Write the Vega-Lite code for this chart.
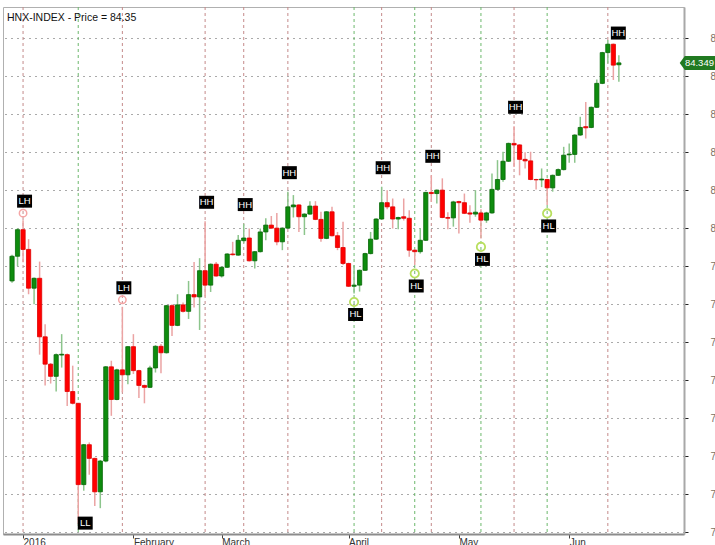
{
"$schema":"https://vega.github.io/schema/vega-lite/v6.json",
"autosize":{"type":"none"},
"width":681,"height":527,
"padding":{"left":3,"top":7,"right":31,"bottom":11},
"background":"white",
"config":{"view":{"stroke":"#b0b0b0","fill":"white"}},
"title":{"text":"HNX-INDEX - Price = 84.35","anchor":"start","frame":"group","orient":"top","offset":-14,"dy":11,"dx":4,"baseline":"alphabetic","fontSize":10.5,"font":"Liberation Sans Narrow, Liberation Sans","fontWeight":"normal","color":"#111"},
"datasets":{"ohlc":[
{"i":0,"d":"2015-12-30","o":78.61,"h":79.3,"l":78.56,"c":79.26},
{"i":1,"d":"2015-12-31","o":79.26,"h":80.0,"l":79.0,"c":79.96},
{"i":2,"d":"2016-01-04","o":79.96,"h":80.21,"l":79.1,"c":79.44,"p":"LH"},
{"i":3,"d":"2016-01-05","o":79.44,"h":79.71,"l":78.26,"c":78.42},
{"i":4,"d":"2016-01-06","o":78.42,"h":78.7,"l":78.0,"c":78.68},
{"i":5,"d":"2016-01-07","o":78.68,"h":79.12,"l":76.67,"c":77.14},
{"i":6,"d":"2016-01-08","o":77.14,"h":77.47,"l":75.86,"c":76.42},
{"i":7,"d":"2016-01-11","o":76.42,"h":76.45,"l":75.91,"c":76.1},
{"i":8,"d":"2016-01-12","o":76.1,"h":76.7,"l":75.7,"c":76.67},
{"i":9,"d":"2016-01-13","o":76.66,"h":77.21,"l":76.33,"c":76.68},
{"i":10,"d":"2016-01-14","o":76.67,"h":76.7,"l":75.32,"c":75.7},
{"i":11,"d":"2016-01-15","o":75.7,"h":76.38,"l":75.36,"c":75.39},
{"i":12,"d":"2016-01-18","o":75.39,"h":75.4,"l":72.21,"c":73.25,"p":"LL"},
{"i":13,"d":"2016-01-19","o":73.25,"h":74.32,"l":73.09,"c":74.3},
{"i":14,"d":"2016-01-20","o":74.3,"h":74.36,"l":73.51,"c":73.94},
{"i":15,"d":"2016-01-21","o":73.94,"h":73.96,"l":72.69,"c":73.06},
{"i":16,"d":"2016-01-22","o":73.06,"h":73.9,"l":72.63,"c":73.87},
{"i":17,"d":"2016-01-25","o":73.87,"h":76.37,"l":73.84,"c":76.35},
{"i":18,"d":"2016-01-26","o":76.35,"h":76.51,"l":75.06,"c":75.49},
{"i":19,"d":"2016-01-27","o":75.49,"h":76.3,"l":75.47,"c":76.27},
{"i":20,"d":"2016-01-28","o":76.27,"h":77.93,"l":75.68,"c":76.14,"p":"LH"},
{"i":21,"d":"2016-01-29","o":76.14,"h":76.9,"l":75.89,"c":76.88},
{"i":22,"d":"2016-02-01","o":76.88,"h":77.21,"l":76.16,"c":76.25},
{"i":23,"d":"2016-02-02","o":76.25,"h":76.27,"l":75.53,"c":75.86},
{"i":24,"d":"2016-02-03","o":75.86,"h":75.88,"l":75.39,"c":75.81},
{"i":25,"d":"2016-02-04","o":75.81,"h":76.38,"l":75.79,"c":76.32},
{"i":26,"d":"2016-02-05","o":76.32,"h":76.92,"l":76.2,"c":76.89},
{"i":27,"d":"2016-02-15","o":76.89,"h":76.95,"l":76.18,"c":76.72},
{"i":28,"d":"2016-02-16","o":76.72,"h":77.98,"l":76.7,"c":77.96},
{"i":29,"d":"2016-02-17","o":77.96,"h":78.0,"l":77.16,"c":77.44},
{"i":30,"d":"2016-02-18","o":77.44,"h":78.26,"l":77.42,"c":77.98},
{"i":31,"d":"2016-02-19","o":77.98,"h":78.04,"l":77.78,"c":77.81},
{"i":32,"d":"2016-02-22","o":77.81,"h":78.61,"l":77.61,"c":78.25},
{"i":33,"d":"2016-02-23","o":78.25,"h":79.11,"l":77.91,"c":78.19},
{"i":34,"d":"2016-02-24","o":78.19,"h":79.21,"l":77.32,"c":78.88},
{"i":35,"d":"2016-02-25","o":78.88,"h":80.18,"l":78.2,"c":78.5,"p":"HH"},
{"i":36,"d":"2016-02-26","o":78.5,"h":79.07,"l":78.32,"c":79.05},
{"i":37,"d":"2016-02-29","o":79.05,"h":79.11,"l":78.72,"c":78.74},
{"i":38,"d":"2016-03-01","o":78.74,"h":78.99,"l":78.7,"c":78.97},
{"i":39,"d":"2016-03-02","o":78.97,"h":79.34,"l":78.95,"c":79.32},
{"i":40,"d":"2016-03-03","o":79.32,"h":79.64,"l":79.28,"c":79.3},
{"i":41,"d":"2016-03-04","o":79.29,"h":79.82,"l":79.27,"c":79.68},
{"i":42,"d":"2016-03-07","o":79.67,"h":80.12,"l":79.6,"c":79.74,"p":"HH"},
{"i":43,"d":"2016-03-08","o":79.74,"h":79.99,"l":79.12,"c":79.14},
{"i":44,"d":"2016-03-09","o":79.14,"h":79.4,"l":78.94,"c":79.38},
{"i":45,"d":"2016-03-10","o":79.38,"h":79.99,"l":79.36,"c":79.9},
{"i":46,"d":"2016-03-11","o":79.9,"h":80.26,"l":79.68,"c":80.08},
{"i":47,"d":"2016-03-14","o":80.08,"h":80.32,"l":79.98,"c":80.0},
{"i":48,"d":"2016-03-15","o":80.0,"h":80.4,"l":79.55,"c":79.64},
{"i":49,"d":"2016-03-16","o":79.64,"h":80.02,"l":79.42,"c":80.0},
{"i":50,"d":"2016-03-17","o":80.0,"h":80.96,"l":79.98,"c":80.56,"p":"HH"},
{"i":51,"d":"2016-03-18","o":80.56,"h":80.87,"l":80.28,"c":80.61},
{"i":52,"d":"2016-03-21","o":80.61,"h":80.63,"l":79.9,"c":80.3},
{"i":53,"d":"2016-03-22","o":80.3,"h":80.39,"l":79.82,"c":80.37},
{"i":54,"d":"2016-03-23","o":80.37,"h":80.71,"l":80.35,"c":80.58},
{"i":55,"d":"2016-03-24","o":80.58,"h":80.71,"l":80.21,"c":80.23},
{"i":56,"d":"2016-03-25","o":80.23,"h":80.43,"l":79.64,"c":79.73},
{"i":57,"d":"2016-03-28","o":79.73,"h":80.45,"l":79.71,"c":80.43},
{"i":58,"d":"2016-03-29","o":80.43,"h":80.56,"l":79.78,"c":79.8},
{"i":59,"d":"2016-03-30","o":79.8,"h":79.9,"l":79.42,"c":79.49},
{"i":60,"d":"2016-03-31","o":79.49,"h":80.17,"l":79.03,"c":79.07},
{"i":61,"d":"2016-04-01","o":79.07,"h":79.09,"l":78.45,"c":78.47},
{"i":62,"d":"2016-04-04","o":78.47,"h":79.03,"l":78.28,"c":78.5,"p":"HL"},
{"i":63,"d":"2016-04-05","o":78.5,"h":78.91,"l":78.33,"c":78.89},
{"i":64,"d":"2016-04-06","o":78.89,"h":79.35,"l":78.87,"c":79.33},
{"i":65,"d":"2016-04-07","o":79.33,"h":79.9,"l":79.31,"c":79.71},
{"i":66,"d":"2016-04-08","o":79.71,"h":80.26,"l":79.69,"c":80.24},
{"i":67,"d":"2016-04-11","o":80.24,"h":81.09,"l":80.22,"c":80.67,"p":"HH"},
{"i":68,"d":"2016-04-12","o":80.67,"h":81.0,"l":80.5,"c":80.56},
{"i":69,"d":"2016-04-13","o":80.56,"h":80.78,"l":79.99,"c":80.24},
{"i":70,"d":"2016-04-14","o":80.24,"h":80.3,"l":79.97,"c":80.28},
{"i":71,"d":"2016-04-15","o":80.3,"h":80.78,"l":80.2,"c":80.26},
{"i":72,"d":"2016-04-19","o":80.26,"h":80.47,"l":79.25,"c":79.42},
{"i":73,"d":"2016-04-20","o":79.42,"h":79.44,"l":79.03,"c":79.38,"p":"HL"},
{"i":74,"d":"2016-04-21","o":79.38,"h":79.99,"l":79.33,"c":79.68},
{"i":75,"d":"2016-04-22","o":79.68,"h":80.96,"l":79.66,"c":80.94},
{"i":76,"d":"2016-04-25","o":80.94,"h":81.39,"l":80.69,"c":80.91,"p":"HH"},
{"i":77,"d":"2016-04-26","o":80.91,"h":81.02,"l":80.65,"c":81.0},
{"i":78,"d":"2016-04-27","o":81.0,"h":81.31,"l":80.26,"c":80.28},
{"i":79,"d":"2016-04-28","o":80.28,"h":80.42,"l":79.97,"c":80.26},
{"i":80,"d":"2016-04-29","o":80.27,"h":80.72,"l":80.04,"c":80.69},
{"i":81,"d":"2016-05-04","o":80.7,"h":80.72,"l":79.86,"c":80.67},
{"i":82,"d":"2016-05-05","o":80.67,"h":80.91,"l":80.37,"c":80.39},
{"i":83,"d":"2016-05-06","o":80.4,"h":80.6,"l":80.14,"c":80.37},
{"i":84,"d":"2016-05-09","o":80.37,"h":81.0,"l":80.3,"c":80.42},
{"i":85,"d":"2016-05-10","o":80.4,"h":80.5,"l":79.73,"c":80.21,"p":"HL"},
{"i":86,"d":"2016-05-11","o":80.21,"h":80.43,"l":80.14,"c":80.4},
{"i":87,"d":"2016-05-12","o":80.4,"h":81.44,"l":80.38,"c":81.02},
{"i":88,"d":"2016-05-13","o":81.02,"h":81.79,"l":81.0,"c":81.28},
{"i":89,"d":"2016-05-16","o":81.28,"h":82.01,"l":81.22,"c":81.76},
{"i":90,"d":"2016-05-17","o":81.76,"h":82.25,"l":81.74,"c":82.23},
{"i":91,"d":"2016-05-18","o":82.23,"h":82.68,"l":81.61,"c":82.19,"p":"HH"},
{"i":92,"d":"2016-05-19","o":82.19,"h":82.21,"l":81.39,"c":81.81},
{"i":93,"d":"2016-05-20","o":81.81,"h":82.0,"l":81.57,"c":81.77},
{"i":94,"d":"2016-05-23","o":81.77,"h":82.01,"l":81.26,"c":81.28},
{"i":95,"d":"2016-05-24","o":81.28,"h":81.3,"l":81.02,"c":81.27},
{"i":96,"d":"2016-05-25","o":81.27,"h":81.57,"l":81.08,"c":81.29},
{"i":97,"d":"2016-05-26","o":81.28,"h":81.3,"l":80.61,"c":81.06,"p":"HL"},
{"i":98,"d":"2016-05-27","o":81.06,"h":81.41,"l":80.96,"c":81.39},
{"i":99,"d":"2016-05-30","o":81.39,"h":81.57,"l":81.37,"c":81.54},
{"i":100,"d":"2016-05-31","o":81.54,"h":82.14,"l":81.52,"c":81.92},
{"i":101,"d":"2016-06-01","o":81.93,"h":82.23,"l":81.72,"c":81.95},
{"i":102,"d":"2016-06-02","o":81.94,"h":82.47,"l":81.72,"c":82.45},
{"i":103,"d":"2016-06-03","o":82.45,"h":82.93,"l":82.43,"c":82.65},
{"i":104,"d":"2016-06-06","o":82.67,"h":83.32,"l":82.36,"c":82.64},
{"i":105,"d":"2016-06-07","o":82.65,"h":83.2,"l":82.63,"c":83.18},
{"i":106,"d":"2016-06-08","o":83.18,"h":83.91,"l":83.16,"c":83.81},
{"i":107,"d":"2016-06-09","o":83.81,"h":84.64,"l":83.79,"c":84.62},
{"i":108,"d":"2016-06-10","o":84.62,"h":84.95,"l":84.33,"c":84.84,"p":"HH"},
{"i":109,"d":"2016-06-13","o":84.84,"h":84.86,"l":83.9,"c":84.29},
{"i":110,"d":"2016-06-14","o":84.3,"h":84.55,"l":83.85,"c":84.349}
]},
"data":{"name":"ohlc"},
"encoding":{
 "x":{"field":"i","type":"quantitative","scale":{"domain":[-0.73,120.9],"nice":false,"zero":false},
  "axis":{"values":[2,22,38,61,81,101],"labelExpr":"datum.value==2?'2016':datum.value==22?'February':datum.value==38?'March':datum.value==61?'April':datum.value==81?'May':'Jun'","grid":false,"tickSize":4,"tickColor":"#444","domainColor":"#8c8c8c","domainWidth":2,"labelAlign":"left","labelBaseline":"top","labelPadding":-1,"labelDx":1,"labelFont":"Liberation Sans Narrow, Liberation Sans","labelFontSize":10,"labelColor":"#333","title":null,"labelFlush":false,"labelOverlap":false}}
},
"layer":[
 {"transform":[{"filter":"isValid(datum.p)"}],
  "mark":{"type":"rule","strokeDash":[3,3],"strokeWidth":1},
  "encoding":{"color":{"condition":{"test":"datum.p=='LH'||datum.p=='HH'","value":"#c48a8a"},"value":"#6cb86c"}}},
 {"mark":{"type":"rule","strokeWidth":1.5},
  "encoding":{
   "y":{"field":"l","type":"quantitative","scale":{"domain":[71.95,85.82],"nice":false,"zero":false},
    "axis":{"orient":"right","values":[72,73,74,75,76,77,78,79,80,81,82,83,84,85],"format":"d","grid":true,"gridColor":"#555","gridDash":[1,5],"gridWidth":1,"tickSize":4,"tickColor":"#222","domainColor":"#a8a8a8","domainWidth":2,"labelPadding":22,"labelFontSize":10,"labelColor":"#7a6e62","labelFont":"Liberation Sans","labelBaseline":"middle","title":null}},
   "y2":{"field":"h"},
   "color":{"condition":{"test":"datum.c>=datum.o","value":"#8cc58c"},"value":"#eba3a3"}}},
 {"mark":{"type":"bar","width":4.2,"strokeWidth":0.8},
  "encoding":{
   "y":{"field":"o","type":"quantitative","scale":{"domain":[71.95,85.82],"nice":false,"zero":false},"axis":{"title":null}},
   "y2":{"field":"c"},
   "fill":{"condition":{"test":"datum.c>=datum.o","value":"#0e8c0e"},"value":"#ff0000"},
   "stroke":{"condition":{"test":"datum.c>=datum.o","value":"#066606"},"value":"#e00000"}}},
 {"transform":[{"filter":"datum.p=='LH'"}],
  "mark":{"type":"point","shape":"circle","size":55,"filled":false,"stroke":"#f5a5a5","strokeWidth":1.5,"opacity":1,"yOffset":-7},
  "encoding":{"y":{"field":"h","type":"quantitative","scale":{"domain":[71.95,85.82],"nice":false,"zero":false},"axis":{"title":null}}}},
 {"transform":[{"filter":"datum.p=='HL'"}],
  "mark":{"type":"point","shape":"circle","size":70,"filled":false,"stroke":"#b8df5e","strokeWidth":1.8,"opacity":1,"yOffset":8.5},
  "encoding":{"y":{"field":"l","type":"quantitative","scale":{"domain":[71.95,85.82],"nice":false,"zero":false},"axis":{"title":null}}}},
 {"transform":[{"filter":"(datum.p=='LH'||datum.p=='HH')&&datum.i!=108"}],
  "encoding":{"y":{"field":"h","type":"quantitative","scale":{"domain":[71.95,85.82],"nice":false,"zero":false},"axis":{"title":null}}},
  "layer":[
   {"mark":{"type":"point","shape":"M-1.15,-1L1.15,-1L1.15,1L-1.15,1Z","size":169,"filled":true,"color":"#000","opacity":1,"strokeWidth":0,"yOffset":-19,"xOffset":1.5}},
   {"mark":{"type":"text","color":"#fff","fontSize":9.5,"font":"Liberation Sans Narrow, Liberation Sans","baseline":"middle","align":"center","yOffset":-19,"xOffset":1.5},"encoding":{"text":{"field":"p"}}}
  ]},
 {"transform":[{"filter":"datum.i==108"}],
  "encoding":{"y":{"field":"h","type":"quantitative","scale":{"domain":[71.95,85.82],"nice":false,"zero":false},"axis":{"title":null}}},
  "layer":[
   {"mark":{"type":"point","shape":"M-1.15,-1L1.15,-1L1.15,1L-1.15,1Z","size":169,"filled":true,"color":"#000","opacity":1,"strokeWidth":0,"yOffset":-7,"xOffset":10.5}},
   {"mark":{"type":"text","color":"#fff","fontSize":9.5,"font":"Liberation Sans Narrow, Liberation Sans","baseline":"middle","align":"center","yOffset":-7,"xOffset":10.5},"encoding":{"text":{"field":"p"}}}
  ]},
 {"transform":[{"filter":"datum.p=='HL'"}],
  "encoding":{"y":{"field":"l","type":"quantitative","scale":{"domain":[71.95,85.82],"nice":false,"zero":false},"axis":{"title":null}}},
  "layer":[
   {"mark":{"type":"point","shape":"M-1.15,-1L1.15,-1L1.15,1L-1.15,1Z","size":169,"filled":true,"color":"#000","opacity":1,"strokeWidth":0,"yOffset":21,"xOffset":1.5}},
   {"mark":{"type":"text","color":"#fff","fontSize":9.5,"font":"Liberation Sans Narrow, Liberation Sans","baseline":"middle","align":"center","yOffset":21,"xOffset":1.5},"encoding":{"text":{"field":"p"}}}
  ]},
 {"transform":[{"filter":"datum.p=='LL'"}],
  "encoding":{"y":{"field":"l","type":"quantitative","scale":{"domain":[71.95,85.82],"nice":false,"zero":false},"axis":{"title":null}}},
  "layer":[
   {"mark":{"type":"point","shape":"M-1.15,-1L1.15,-1L1.15,1L-1.15,1Z","size":169,"filled":true,"color":"#000","opacity":1,"strokeWidth":0,"yOffset":-1,"xOffset":7}},
   {"mark":{"type":"text","color":"#fff","fontSize":9.5,"font":"Liberation Sans Narrow, Liberation Sans","baseline":"middle","align":"center","yOffset":-1,"xOffset":7},"encoding":{"text":{"field":"p"}}}
  ]},
 {"transform":[{"filter":"datum.i==110"}],
  "encoding":{
   "x":{"datum":123.94,"type":"quantitative","scale":{"domain":[-0.73,120.9],"nice":false,"zero":false}},
   "y":{"field":"c","type":"quantitative","scale":{"domain":[71.95,85.82],"nice":false,"zero":false},"axis":{"title":null}}},
  "layer":[
   {"mark":{"type":"point","shape":"M-1.07,0L-0.73,-0.467L1.3,-0.467L1.3,0.467L-0.73,0.467Z","size":900,"filled":true,"color":"#217a21","opacity":1,"strokeWidth":0,"clip":false}},
   {"mark":{"type":"text","color":"#fff","fontSize":9.5,"font":"Liberation Sans","baseline":"middle","align":"left","clip":false},
    "encoding":{"x":{"datum":121.97,"type":"quantitative","scale":{"domain":[-0.73,120.9],"nice":false,"zero":false}},"text":{"field":"c","type":"quantitative","format":".3f"}}}
  ]}
]
}
